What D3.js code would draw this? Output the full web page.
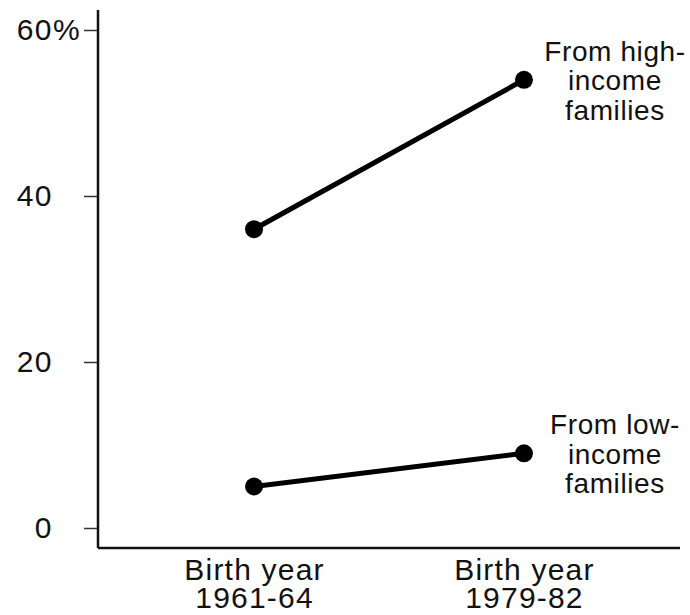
<!DOCTYPE html>
<html>
<head>
<meta charset="utf-8">
<script src="https://cdn.jsdelivr.net/npm/d3@7"></script>
<style>
  body { margin: 0; background: #fff; }
  text { font-family: "Liberation Sans", Arial, Helvetica, sans-serif; fill: #111; }
</style>
</head>
<body>
<div id="chart"></div>
<script>
// values
const periods = ['1961-64', '1979-82'];
const periodPrefix = 'Birth year';
const highIncome = [36, 54];
const lowIncome = [5, 9];
const yTicks = [0, 20, 40, 60];
const highLabel = ['From high-', 'income', 'families'];
const lowLabel = ['From low-', 'income', 'families'];

document.addEventListener('DOMContentLoaded', function(){
    drawChart();
});

function drawChart() {
    const width = 690, height = 615;
    const margin = {top: 10, right: 10, bottom: 67, left: 98};
    const bottom = height - margin.bottom;

    const svg = d3.select('#chart').append('svg')
        .attr('width', width).attr('height', height);

    let x = d3.scalePoint()
        .domain(periods)
        .range([margin.left, width - margin.right])
        .padding(0.578);

    let y = d3.scaleLinear()
        .domain([0, 60])
        .range([bottom - 20, margin.top + 20]);

    // y axis ticks and labels
    const yAxis = svg.append('g')
        .attr('transform', 'translate(' + margin.left + ',0)')
        .call(d3.axisLeft(y).tickValues(yTicks).tickSize(14).tickPadding(31).tickFormat(d => d));
    yAxis.select('.domain').remove();
    yAxis.selectAll('.tick line').attr('stroke', '#333').attr('stroke-width', 1.5);
    yAxis.selectAll('.tick text')
        .style('font-size', '30px')
        .style('letter-spacing', '1.5px')
        .attr('fill', '#111')
        .each(function(d) {
            if (d === d3.max(yTicks)) {
                const numW = this.getComputedTextLength();
                d3.select(this).append('tspan').text('%');
                // keep the number aligned, let % hang
                d3.select(this).attr('text-anchor', 'start')
                    .attr('x', -45 - numW);
            }
        });

    // frame
    svg.append('line')
        .attr('x1', margin.left).attr('x2', margin.left)
        .attr('y1', margin.top).attr('y2', bottom)
        .attr('stroke', '#111').attr('stroke-width', 2.5);
    svg.append('line')
        .attr('x1', margin.left).attr('x2', width - margin.right)
        .attr('y1', bottom).attr('y2', bottom)
        .attr('stroke', '#111').attr('stroke-width', 2.5);

    // x labels
    const xAxis = svg.append('g')
        .attr('transform', 'translate(0,' + bottom + ')')
        .call(d3.axisBottom(x).tickSize(0).tickFormat(''));
    xAxis.select('.domain').remove();
    xAxis.selectAll('.tick').each(function(d) {
        const t = d3.select(this).select('text').text(null)
            .style('font-size', '30px').style('letter-spacing', '1.2px')
            .attr('fill', '#111').attr('y', 0).attr('dy', null);
        t.append('tspan').attr('x', 0).attr('y', 32).text(periodPrefix);
        t.append('tspan').attr('x', 0).attr('y', 60).text(d);
    });

    const line = d3.line()
        .x((d, i) => x(periods[i]))
        .y(d => y(d));

    const series = [
        {values: highIncome, label: highLabel},
        {values: lowIncome, label: lowLabel}
    ];

    series.forEach(function(s) {
        svg.append('path')
            .datum(s.values)
            .attr('d', line)
            .attr('fill', 'none')
            .attr('stroke', '#000')
            .attr('stroke-width', 5);

        svg.selectAll(null).data(s.values).enter().append('circle')
            .attr('cx', (d, i) => x(periods[i]))
            .attr('cy', d => y(d))
            .attr('r', 9)
            .attr('fill', '#000');

        const last = s.values[s.values.length - 1];
        const lx = x(periods[periods.length - 1]) + 91;
        const ly = y(last) - 19;
        const txt = svg.append('text')
            .attr('text-anchor', 'middle')
            .style('font-size', '28px')
            .style('letter-spacing', '0.6px');
        s.label.forEach(function(l, i) {
            txt.append('tspan').attr('x', lx).attr('y', ly + i * 29.5).text(l);
        });
    });
}
</script>
</body>
</html>
